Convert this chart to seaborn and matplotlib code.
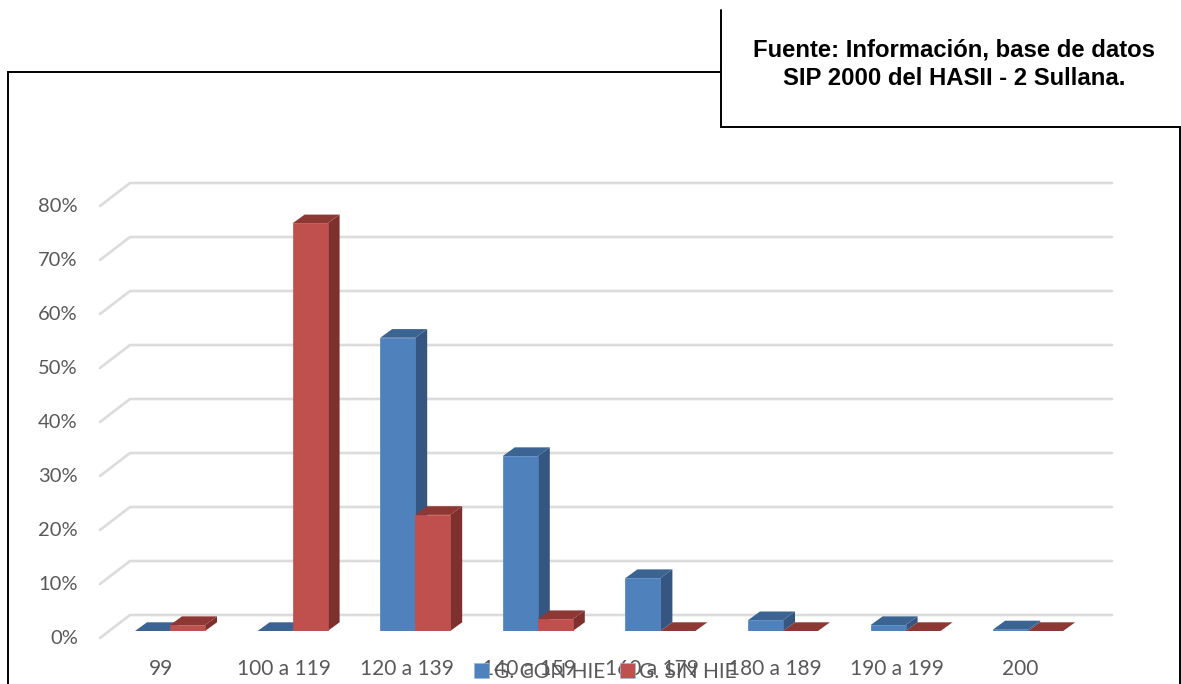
import matplotlib
matplotlib.use("Agg")
import matplotlib.pyplot as plt
from matplotlib.lines import Line2D
from matplotlib.patches import Polygon
from matplotlib.transforms import ScaledTranslation
import pandas as pd
import seaborn as sns

categories = ["99", "100 a 119", "120 a 139", "140 a 159", "160 a 179", "180 a 189", "190 a 199", "200"]
con_hie = [0.0, 0.0, 54.3, 32.4, 9.8, 2.0, 1.1, 0.3]
sin_hie = [1.1, 75.5, 21.5, 2.2, 0.0, 0.0, 0.0, 0.0]
series_names = ["G. CON HIE", "G. SIN HIE"]
y_ticks = [0, 10, 20, 30, 40, 50, 60, 70, 80]
source_note = "Fuente: Información, base de datos\nSIP 2000 del HASII - 2 Sullana."

W, H = 1181, 684
AX_L, AX_R = 100, 1112      # horizontal extent of the plot area, px
BASE_Y = 631                # pixel row of the bars' front base
PX_PER_PCT = 5.4
PX_PER_CAT = 122.6
CAT0_X = 170
DEPTH_X, DEPTH_Y = 12, 8.7  # bar extrusion, px
WALL_X, WALL_TOP, WALL_DROP = 30, 16, 7  # slanted floor/wall lines, px

base_colors = {"G. CON HIE": "#4F81BD", "G. SIN HIE": "#C0504D"}
side_colors = ["#345680", "#7E302E"]
top_colors = ["#3C6492", "#8E3836"]
text_color = "#595959"
grid_color = "#DCDCDC"

sns.set_theme(style="white")
plt.rcParams["font.family"] = ["Lato", "DejaVu Sans"]

fig = plt.figure(figsize=(W / 100, H / 100), dpi=100)
y_top = 80 + 12
ax = fig.add_axes([AX_L / W, (H - BASE_Y) / H, (AX_R - AX_L) / W, y_top * PX_PER_PCT / H])

df = pd.DataFrame({
    "rango": categories * 2,
    "valor": con_hie + sin_hie,
    "grupo": [series_names[0]] * len(categories) + [series_names[1]] * len(categories),
})
sns.barplot(data=df, x="rango", y="valor", hue="grupo", order=categories, hue_order=series_names,
            palette=base_colors, width=70 / PX_PER_CAT, gap=0, saturation=1, ax=ax, zorder=3,
            edgecolor="#9DB7D8", linewidth=0.5)

ax.set_xlim((AX_L - CAT0_X) / PX_PER_CAT, (AX_R - CAT0_X) / PX_PER_CAT)
ax.set_ylim(0, y_top)
ax.set_xlabel("")
ax.set_ylabel("")
for spine in ax.spines.values():
    spine.set_visible(False)

# Back-wall gridlines with the slanted segment running out to the front
x0, x1 = ax.get_xlim()
dx = (x1 - x0) / (AX_R - AX_L)
for v in y_ticks:
    back = v + WALL_TOP / PX_PER_PCT
    front = v - WALL_DROP / PX_PER_PCT
    ax.plot([x0, x0 + WALL_X * dx, x1], [front, back, back], color=grid_color, lw=1.9,
            zorder=1, clip_on=False, solid_joinstyle="miter")

# Extrude each bar: a darker side face and a darker top face
ddx = DEPTH_X * dx
ddy = DEPTH_Y / PX_PER_PCT
n_cat = len(categories)
bars = [p for p in ax.patches if p.get_width() > 0][:2 * n_cat]
for i, bar in enumerate(bars):
    s = i // n_cat
    left, w, h = bar.get_x(), bar.get_width(), bar.get_height()
    right = left + w
    order = 4 + (i % n_cat) * 2 + s
    bar.set_zorder(order + 0.5)
    bar.set_edgecolor(bar.get_facecolor())
    if h > 0:
        ax.add_patch(Polygon([(right, 0), (right + ddx, ddy), (right + ddx, h + ddy), (right, h)],
                             closed=True, fc=side_colors[s], ec="none", zorder=order, clip_on=False))
    ax.add_patch(Polygon([(left, h), (left + ddx, h + ddy), (right + ddx, h + ddy), (right, h)],
                         closed=True, fc=top_colors[s], ec="none", zorder=order, clip_on=False))

ax.set_yticks(y_ticks, [f"{v}%" for v in y_ticks])
ax.tick_params(axis="y", length=0, pad=16, labelsize=14.5, labelcolor=text_color)
ax.tick_params(axis="x", length=0, pad=20, labelsize=15, labelcolor=text_color)
y_shift = ScaledTranslation(0, -6 / 100, fig.dpi_scale_trans)
for label in ax.get_yticklabels():
    label.set_transform(label.get_transform() + y_shift)
x_shift = ScaledTranslation(-8.5 / 100, 0, fig.dpi_scale_trans)
for label in ax.get_xticklabels():
    label.set_transform(label.get_transform() + x_shift)

sns.move_legend(ax, "center", bbox_to_anchor=(605.5 / W, (H - 672) / H), bbox_transform=fig.transFigure,
                ncol=2, frameon=False, title=None, fontsize=15, labelcolor=text_color,
                handlelength=0.72, handleheight=0.72, handletextpad=0.2, columnspacing=0.72,
                borderpad=0, borderaxespad=0)

# Page frame and source box
def rule(xs, ys):
    fig.add_artist(Line2D([x / W for x in xs], [1 - y / H for y in ys], color="black", lw=1.4,
                          solid_joinstyle="miter"))

rule([8, 8, 721], [684, 72, 72])
rule([721, 721, 1180, 1180], [10, 127, 127, 684])
fig.text(954 / W, 1 - 64 / H, source_note, ha="center", va="center", fontsize=17.2,
         fontweight="bold", family="Liberation Sans", color="black", linespacing=1.3)

fig.savefig("out.png", dpi=100)
